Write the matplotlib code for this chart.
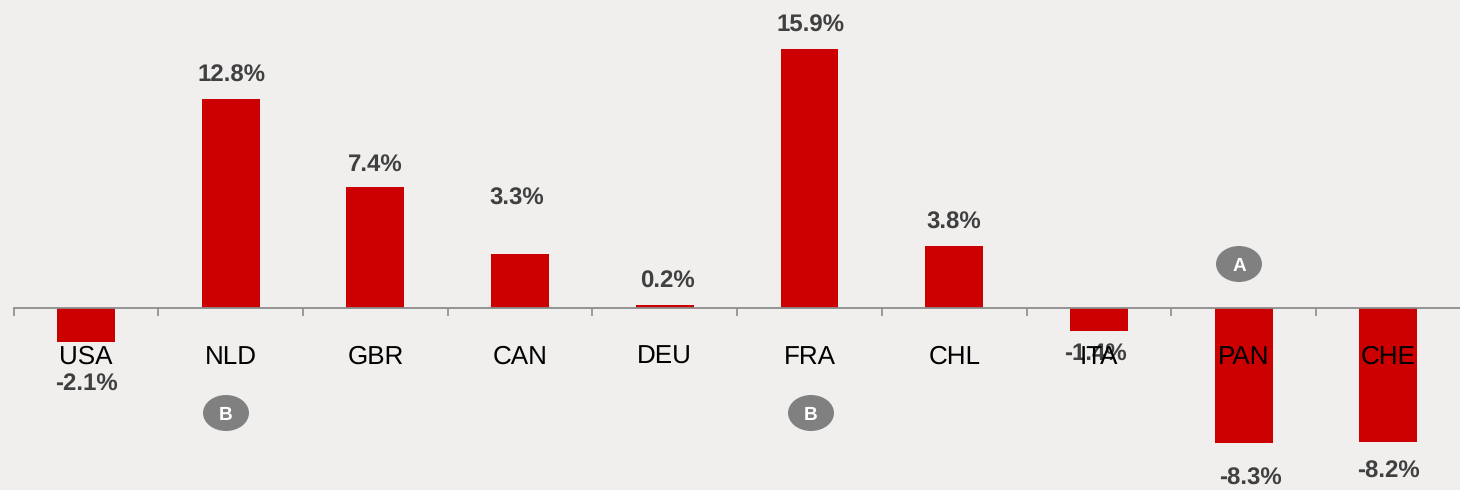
import matplotlib
matplotlib.use('Agg')
import matplotlib.pyplot as plt
from matplotlib.patches import Ellipse

# Данные
countries = ['USA', 'NLD', 'GBR', 'CAN', 'DEU', 'FRA', 'CHL', 'ITA', 'PAN', 'CHE']
values = [-2.1, 12.8, 7.4, 3.3, 0.2, 15.9, 3.8, -1.4, -8.3, -8.2]

# Сдвиг подписей значений относительно конца столбца, пиксели
label_dx = [0, 1, 0, -3, 3, 1, 0, -3, 7, 0]
label_dy = [39, 26, 25, 58, 26, 26, 26, 20, 33, 27]

# Кружки с буквами: буква, центр в пикселях картинки
badge_text = ['A', 'B', 'B']
badge_x = [1239, 226, 811]
badge_y = [264, 413, 413]

W, H = 1460, 490
BG = '#F0EFEE'
RED = '#CC0000'
GRAY = '#8C8C8C'
DARK = '#404040'

plt.rcParams['font.family'] = ['Liberation Sans', 'DejaVu Sans']
plt.rcParams['text.hinting'] = 'none'
plt.rcParams['text.hinting_factor'] = 1

fig = plt.figure(figsize=(W / 100, H / 100), dpi=100, facecolor=BG)
ax = fig.add_axes([0, 0, 1, 1], facecolor=BG)

x = list(range(len(countries)))
ax.bar(x, values, width=0.4, color=RED, linewidth=0)

# Масштабы: 144.7 пикс. на категорию, 16.3 пикс. на процент, ноль на y=308
ax.set_xlim(-86 / 144.7, (W - 86) / 144.7)
ax.set_ylim(-(H - 308) / 16.3, 308 / 16.3)

for s in ['top', 'left', 'right']:
    ax.spines[s].set_visible(False)
ax.spines['bottom'].set_position(('data', 0))
ax.spines['bottom'].set_color(GRAY)
ax.spines['bottom'].set_linewidth(1.3)
ax.spines['bottom'].set_bounds(-0.5, (W - 86) / 144.7)
ax.yaxis.set_visible(False)

ax.set_xticks(x)
ax.set_xticklabels(countries, fontsize=19, color='black')
ax.tick_params(axis='x', which='major', length=0, pad=26.5)
ax.set_xticks([i - 0.5 for i in x], minor=True)
ax.tick_params(axis='x', which='minor', length=5.5, width=1.2, color=GRAY)

for i, v in enumerate(values):
    sign = 1 if v > 0 else -1
    ax.annotate('%.1f%%' % v, xy=(i, v),
                xytext=(label_dx[i] * 0.72, sign * label_dy[i] * 0.72),
                textcoords='offset points', ha='center', va='center_baseline',
                fontsize=17, fontweight='bold', color=DARK, zorder=1.2)

for t, px, py in zip(badge_text, badge_x, badge_y):
    ax.add_patch(Ellipse((px / W, 1 - py / H), 46 / W, 36 / H, transform=ax.transAxes,
                         facecolor='#808080', edgecolor='none'))
    ax.text(px / W, 1 - py / H, t, transform=ax.transAxes, ha='center', va='center_baseline',
            fontsize=14, fontweight='bold', color='white')

fig.savefig('out.png', dpi=100, facecolor=BG)
